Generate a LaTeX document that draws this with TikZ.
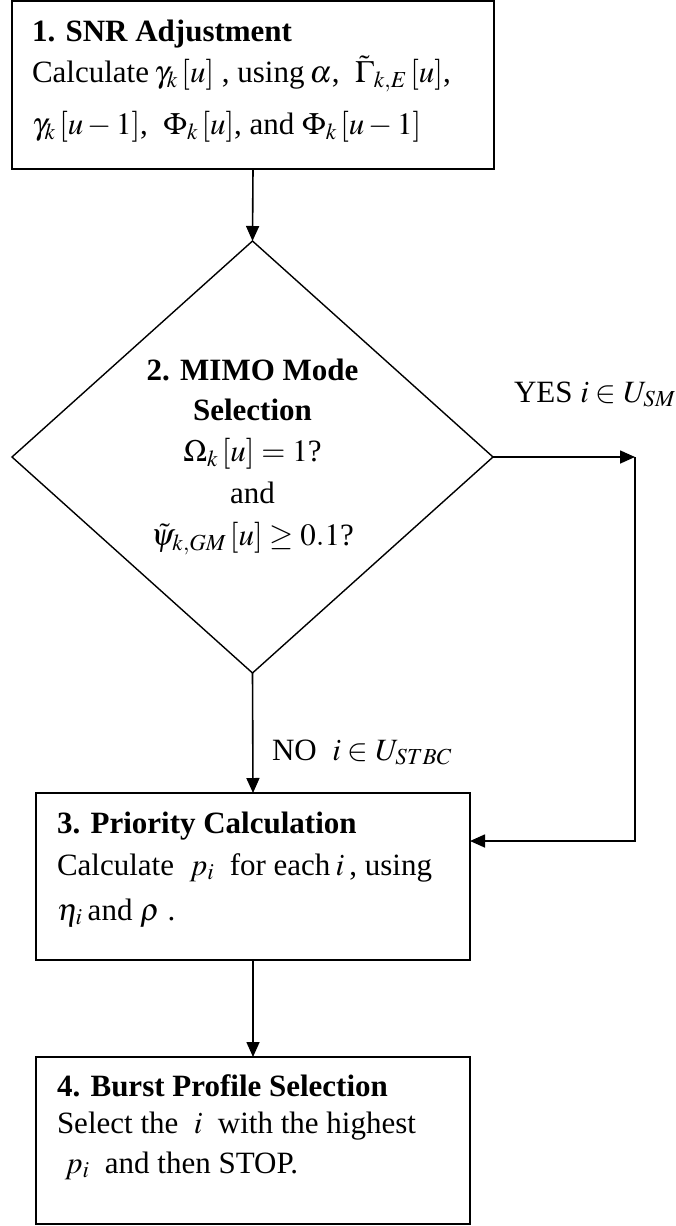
\documentclass[tikz,border=0pt]{standalone}
\usepackage{mathptmx}
\usepackage{fontspec}
\setmainfont{Liberation Serif}
\usetikzlibrary{shapes.geometric,arrows.meta}
\begin{document}
\begin{tikzpicture}[x=1pt,y=-1pt,
  every node/.style={inner sep=0pt,outer sep=0pt},
  stepbox/.style={draw,line width=2pt,rectangle,minimum width=#1,minimum height=167pt},
  decision/.style={draw,line width=1.4pt,diamond,minimum width=481pt,minimum height=432pt},
  txt/.style={anchor=base west,font=\fontsize{31}{36}\selectfont},
  ttl/.style={anchor=base west,font=\fontsize{31}{36}\selectfont\bfseries},
  ctxt/.style={anchor=base,font=\fontsize{31}{36}\selectfont},
  cttl/.style={anchor=base,font=\fontsize{31}{36}\selectfont\bfseries},
  arr/.style={line width=1.6pt,-{Triangle[length=15pt,width=13pt]}},
  ln/.style={line width=1.6pt}]
\path[use as bounding box] (0,0) rectangle (676,1226);
% boxes
\node[stepbox=482pt,minimum height=168pt] (b1) at (253,85) {};
\node[decision] (d) at (252.5,457) {};
\node[stepbox=434pt] (b3) at (253,876.5) {};
\node[stepbox=434pt] (b4) at (253,1140.5) {};
% box 1 text
\node[ttl] (t11) at (32,41) {1. SNR Adjustment};
\node[txt] (t12) at (32,82) {Calculate\,$\gamma_{k}\,[u]$ , using\,$\alpha$, \ $\tilde{\Gamma}_{k,E}\,[u]$,};
\node[txt] (t13) at (32,134) {$\gamma_{k}\,[u-1]$, \ $\Phi_{k}\,[u]$, and $\Phi_{k}\,[u-1]$};
% diamond text
\node[cttl] (t21) at (252.5,380) {2. MIMO Mode};
\node[cttl] (t22) at (252.5,420) {Selection};
\node[ctxt] (t23) at (252.5,461) {$\Omega_{k}\,[u]=1$?};
\node[ctxt] (t24) at (252.5,503) {and};
\node[ctxt] (t25) at (252.5,545) {$\tilde{\psi}_{k,GM}\,[u]\geq 0.1$?};
% box 3 text
\node[ttl] (t31) at (57,833) {3. Priority Calculation};
\node[txt] (t32) at (57,875) {Calculate \ $p_i$ \ for each\,$i$\,, using};
\node[txt] (t33) at (57,920) {$\eta_i$\,and $\rho$ .};
% box 4 text
\node[ttl] (t41) at (57,1096) {4. Burst Profile Selection};
\node[txt] (t42) at (57,1133) {Select the \ $i$ \ with the highest};
\node[txt] (t43) at (57,1173) {\ $p_i$ \ and then STOP.};
% labels
\node[txt] (yes) at (514,402) {YES $i\in U_{SM}$};
\node[txt] (no) at (272,760) {NO \ $i\in U_{STBC}$};
% connectors
\coordinate (c1) at (635,457);
\coordinate (c2) at (635,841);
\draw[arr] (b1.south) -- (d.north);
\draw[arr] (d.south) -- (b3.north);
\draw[arr] (b3.south) -- (b4.north);
\draw[arr] (d.east) -- (c1);
\draw[arr] (c1) -- (c2) -- (b3.east |- c2);
\end{tikzpicture}
\end{document}
